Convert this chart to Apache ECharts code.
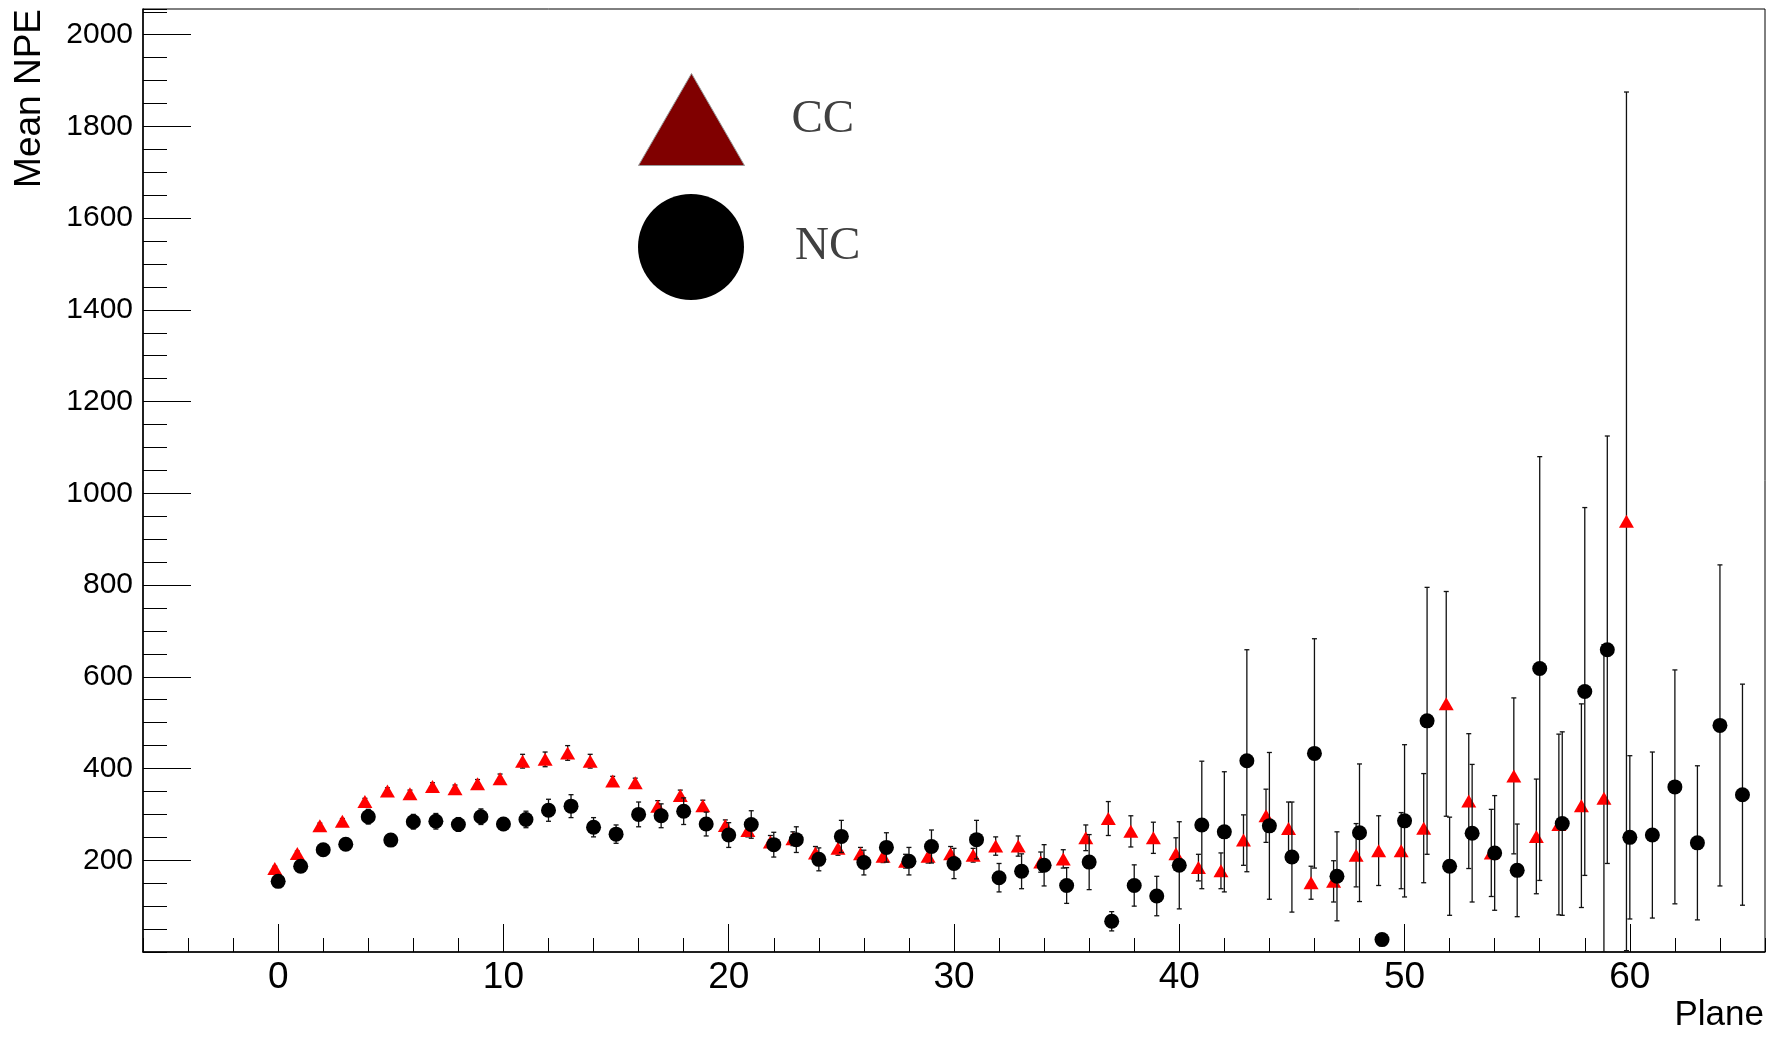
<!DOCTYPE html>
<html>
<head>
<meta charset="utf-8">
<script src="https://cdn.jsdelivr.net/npm/echarts@6/dist/echarts.min.js"></script>
<style>
html,body{margin:0;padding:0;background:#ffffff;}
#main{width:1774px;height:1037px;}
</style>
</head>
<body>
<div id="main"></div>
<script>
// ---------- data ----------
const ncPlane = [0,1,2,3,4,5,6,7,8,9,10,11,12,13,14,15,16,17,18,19,20,21,22,23,24,25,26,27,28,29,30,31,32,33,34,35,36,37,38,39,40,41,42,43,44,45,46,47,48,49,50,51,52,53,54,55,56,57,58,59,60,61,62,63,64,65];
const ncMean = [154,187,223,235,295,244,284,285,278,295,
                279,289,309,318,272,257,300,297,307,279,
                255,278,234,245,202,252,195,228,198,230,
                193,245,162,176,189,145,196,67,145,122,
                189,277,262,417,275,207,433,165,260,27,
                286,504,187,259,216,178,618,280,568,659,
                250,255,360,238,494,343];
const ncErr  = [6,6,7,7,16,10,16,17,15,17,
                14,18,24,25,21,20,27,26,29,26,
                27,30,27,28,25,35,27,32,30,36,
                33,42,31,38,45,39,60,21,45,43,
                95,139,131,242,160,120,250,97,150,8,
                166,291,107,150,125,101,462,200,401,466,
                178,181,255,168,350,241];

const ccPlane = [-0.15,0.85,1.85,2.85,3.85,4.85,5.85,6.85,7.85,8.85,
                 9.85,10.85,11.85,12.85,13.85,14.85,15.85,16.85,17.85,18.85,
                 19.85,20.85,21.85,22.85,23.85,24.85,25.85,26.85,27.85,28.85,
                 29.85,30.85,31.85,32.85,33.85,34.85,35.85,36.85,37.85,38.85,
                 39.85,40.85,41.85,42.85,43.85,44.85,45.85,46.85,47.85,48.85,
                 49.85,50.85,51.85,52.85,53.85,54.85,55.85,56.85,57.85,58.85,
                 59.85];
const ccMean = [182,215,275,285,328,351,345,361,356,367,
                378,416,420,434,416,373,369,318,341,319,
                276,265,240,247,216,226,214,209,198,209,
                214,211,231,231,196,203,249,291,263,249,
                214,184,177,244,297,269,151,154,211,221,
                221,270,541,329,216,384,252,278,319,335,
                939];
const ccErr  = [5,5,6,6,7,7,8,8,8,9,
                10,15,16,16,15,10,10,12,12,12,
                12,14,14,15,14,15,14,14,15,15,
                16,15,20,22,22,20,28,37,34,34,
                35,29,39,55,58,58,36,45,69,76,
                83,119,245,147,95,170,125,197,222,335,
                936];

const xMajorTicks = [0,10,20,30,40,50,60];
const xRange = [-6, 66];
const yRange = [0, 2056];
const seriesNames = ['CC','NC'];
const axisTitles = {x:'Plane', y:'Mean NPE'};

// ---------- build ----------
const ccPts = ccPlane.map((x,i)=>[x, ccMean[i]]);
const ncPts = ncPlane.map((x,i)=>[x, ncMean[i]]);
const ccErrData = ccPlane.map((x,i)=>[x, ccMean[i]-ccErr[i], ccMean[i]+ccErr[i]]);
const ncErrData = ncPlane.map((x,i)=>[x, ncMean[i]-ncErr[i], ncMean[i]+ncErr[i]]);

function errRender(params, api){
  const x = api.value(0), lo = api.value(1), hi = api.value(2);
  const a = api.coord([x, lo]);
  const b = api.coord([x, hi]);
  const cap = 2.5;
  const st = {stroke:'#111', lineWidth:1.3, fill:null};
  return {type:'group', children:[
    {type:'line', shape:{x1:a[0], y1:a[1], x2:b[0], y2:b[1]}, style:st},
    {type:'line', shape:{x1:b[0]-cap, y1:b[1], x2:b[0]+cap, y2:b[1]}, style:st},
    {type:'line', shape:{x1:a[0]-cap, y1:a[1], x2:a[0]+cap, y2:a[1]}, style:st}
  ]};
}

const chart = echarts.init(document.getElementById('main'), null, {renderer:'canvas'});
const sans = "'Liberation Sans', Arial, Helvetica, sans-serif";
const plain = v => String(v);

chart.setOption({
  animation:false,
  backgroundColor:'#ffffff',
  grid:{left:143, right:9, top:9, bottom:85, show:true, borderColor:'#000', borderWidth:1,
        containLabel:false, outerBoundsMode:'none'},
  legend:[
    {data:[{name:seriesNames[0], icon:'triangle', itemStyle:{color:'#800000', borderColor:'#999', borderWidth:1}}],
     left:638, top:73, itemWidth:106, itemHeight:92, padding:0, selectedMode:false,
     textStyle:{fontFamily:"'Liberation Serif', 'Times New Roman', serif", fontSize:47, color:'#404040', padding:[0,0,10,42]}},
    {data:[{name:seriesNames[1], icon:'circle', itemStyle:{color:'#000'}}],
     left:638, top:194, itemWidth:106, itemHeight:106, padding:0, selectedMode:false,
     textStyle:{fontFamily:"'Liberation Serif', 'Times New Roman', serif", fontSize:47, color:'#404040', padding:[4,0,0,46]}}
  ],
  xAxis:[
    {type:'value', min:xRange[0], max:xRange[1], position:'bottom',
     name:axisTitles.x, nameLocation:'end', nameGap:0, nameMoveOverlap:false,
     nameTextStyle:{fontFamily:sans, fontSize:35, color:'#000', align:'right', verticalAlign:'top', padding:[46,1,0,0]},
     axisLine:{show:true, onZero:false, lineStyle:{color:'#000', width:1.5}},
     axisTick:{show:true, inside:true, length:28, customValues:xMajorTicks, lineStyle:{color:'#000', width:1}},
     axisLabel:{show:true, customValues:xMajorTicks, formatter:plain, fontFamily:sans, fontSize:37, color:'#000', margin:7},
     splitLine:{show:false}},
    {type:'value', min:xRange[0], max:xRange[1], interval:2, position:'bottom',
     axisLine:{show:false, onZero:false},
     axisTick:{show:true, inside:true, length:14, lineStyle:{color:'#000', width:1}},
     axisLabel:{show:false}, splitLine:{show:false}}
  ],
  yAxis:[
    {type:'value', min:yRange[0], max:yRange[1], interval:200, position:'left',
     name:axisTitles.y, nameLocation:'end', nameGap:0, nameRotate:90, nameMoveOverlap:false,
     nameTextStyle:{fontFamily:sans, fontSize:37, color:'#000', align:'right', verticalAlign:'bottom', padding:[0,0,95,0]},
     axisLine:{show:true, onZero:false, lineStyle:{color:'#000', width:1.5}},
     axisTick:{show:true, inside:true, length:48, lineStyle:{color:'#000', width:1}},
     axisLabel:{show:true, showMinLabel:false, showMaxLabel:false, formatter:plain, fontFamily:sans, fontSize:30, color:'#000', margin:10},
     splitLine:{show:false}},
    {type:'value', min:yRange[0], max:yRange[1], interval:50, position:'left',
     axisLine:{show:false, onZero:false},
     axisTick:{show:true, inside:true, length:24, lineStyle:{color:'#000', width:1}},
     axisLabel:{show:false}, splitLine:{show:false}}
  ],
  series:[
    {name:'CC errors', type:'custom', renderItem:errRender, data:ccErrData, clip:true, z:2,
     encode:{x:0, y:[1,2]}, silent:true},
    {name:seriesNames[0], type:'scatter', data:ccPts, symbol:'triangle', symbolSize:[15,13],
     itemStyle:{color:'#ff0000', opacity:1}, z:3, clip:true, silent:true},
    {name:'NC errors', type:'custom', renderItem:errRender, data:ncErrData, clip:true, z:4,
     encode:{x:0, y:[1,2]}, silent:true},
    {name:seriesNames[1], type:'scatter', data:ncPts, symbol:'circle', symbolSize:15,
     itemStyle:{color:'#000000', opacity:1}, z:5, clip:true, silent:true}
  ]
});
</script>
</body>
</html>
